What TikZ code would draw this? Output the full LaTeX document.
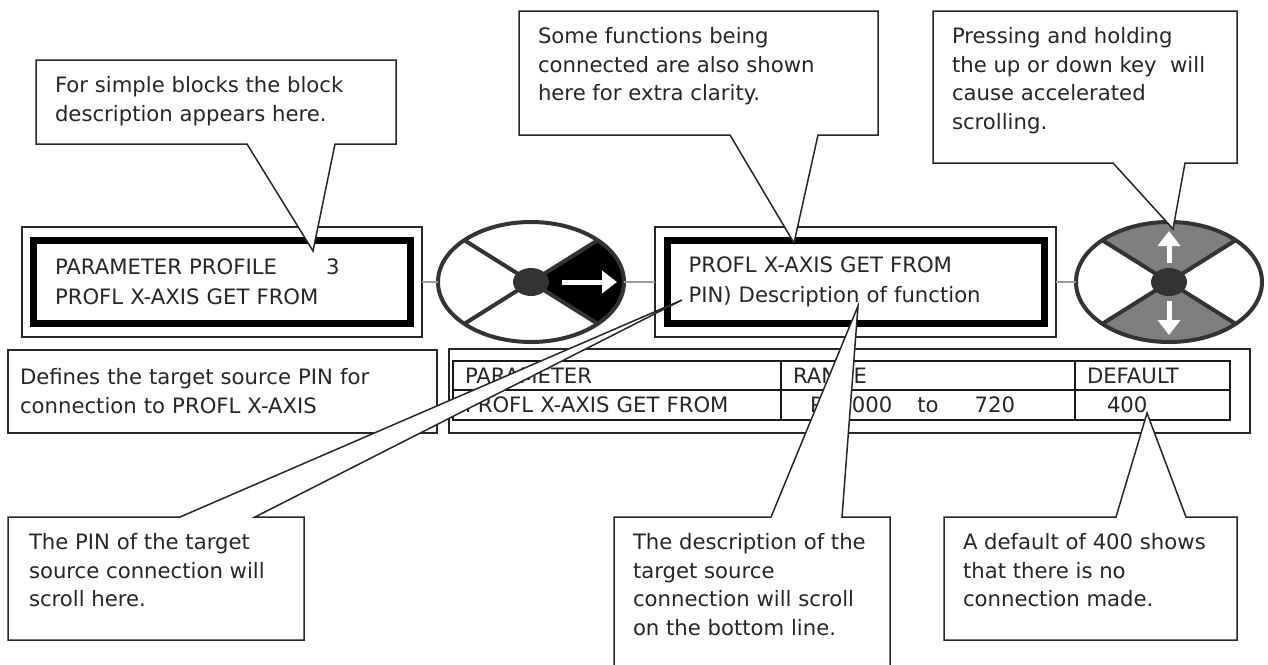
\documentclass[tikz,border=0pt]{standalone}
\usepackage{fontspec}
\setmainfont{DejaVu Sans}
\usepackage{xcolor}
\usetikzlibrary{shapes.geometric, arrows.meta, positioning, calc}
\definecolor{ink}{HTML}{262626}
\definecolor{rim}{HTML}{333333}
\definecolor{wiregray}{HTML}{9A9A9A}
\definecolor{padgray}{HTML}{7F7F7F}
\tikzset{
    base/.style={inner sep=0pt, outer sep=0pt},
    txt/.style={text=ink, font=\fontsize{10.6}{14.5}\selectfont},
    frame/.style={base, rectangle, draw=ink, line width=0.75pt},
    screen/.style={base, txt, rectangle, draw=black, line width=3.5pt, align=left, inner xsep=10.75pt, text width=167pt, font=\fontsize{10.6}{15}\selectfont},
    cell/.style={base, txt, rectangle, draw=black!90, line width=0.6pt, inner xsep=6pt, align=left},
    bbox/.style={base, rectangle, anchor=north west},
    balloon/.style={draw=ink, line width=0.75pt, fill=white, line join=miter},
    note/.style={base, txt, anchor=north west, align=left, font=\fontsize{10.6}{14.3}\selectfont},
    wheel/.style={base, ellipse, draw=rim, line width=2pt, minimum width=93pt, minimum height=60pt},
    hub/.style={base, ellipse, fill=rim, minimum width=18pt, minimum height=14pt},
    spoke/.style={draw=rim, line width=2pt},
    wiring/.style={draw=wiregray, line width=0.75pt},
    keyarrow/.style={draw=white, line width=2.5pt, -{Triangle[width=11pt, length=7.5pt]}}
}
\begin{document}
\begin{tikzpicture}[x=0.5pt, y=-0.5pt]
    \useasboundingbox (0,0) rectangle (1268,664);
    \clip (0,0) rectangle (1268,664);

    % Display windows
    \node (d1) [frame, minimum width=200pt, minimum height=55pt] at (222,282) {};
    \node (d1in) [screen, minimum height=41.5pt] at (d1.center) {PARAMETER PROFILE\hspace{24.5pt}3\\PROFL X-AXIS GET FROM};
    \node (d2) [frame, minimum width=200.5pt, minimum height=55pt] at (855.5,282) {};
    \node (d2in) [screen, minimum height=41.5pt] at (d2.center) {PROFL X-AXIS GET FROM\\PIN) Description of function};

    % Description and parameter table
    \node (def) [frame, txt, anchor=north west, minimum width=214.5pt, minimum height=41.5pt, inner xsep=6pt, text width=202.5pt, align=left] at (8,350) {Defines the target source PIN for\\connection to PROFL X-AXIS};
    \node (tbl) [frame, anchor=north west, minimum width=400.5pt, minimum height=42pt] at (449,349) {};
    \node (h1) [cell, anchor=north west, text width=152pt, minimum height=14.5pt] at (453,361) {PARAMETER};
    \node (h2) [cell, right=0pt of h1, text width=135pt, minimum height=14.5pt] {RANGE};
    \node (h3) [cell, right=0pt of h2, text width=65.5pt, minimum height=14.5pt] {DEFAULT};
    \node (v1) [cell, below=0pt of h1, text width=152pt, minimum height=15pt] {PROFL X-AXIS GET FROM};
    \node (v2) [cell, below=0pt of h2, text width=135pt, minimum height=15pt] {\hspace*{8.5pt}PIN 000\hspace{12.5pt}to\hspace{18pt}720};
    \node (v3) [cell, below=0pt of h3, text width=65.5pt, minimum height=15pt] {\hspace*{10pt}400};

    % Left key: black right-hand segment
    \coordinate (w1c) at (531,282);
    \begin{scope}
        \clip (w1c) -- ++(201,-126) -- ++(0,252) -- cycle;
        \fill[black] (w1c) ellipse [x radius=46.5pt, y radius=30pt];
    \end{scope}
    \foreach \sx/\sy in {67/42, -67/42, 67/-42, -67/-42}
        \draw[spoke] (w1c) -- ++(\sx,\sy);
    \node (w1) [wheel] at (w1c) {};
    \node (w1hub) [hub] at (w1c) {};
    \draw[keyarrow] ($(w1c)+(31,0)$) -- ($(w1c)+(86,0)$);

    % Right key: grey up and down segments
    \coordinate (w2c) at (1169,282);
    \begin{scope}
        \clip (w2c) -- ++(-201,-126) -- ++(402,0) -- cycle;
        \fill[padgray] (w2c) ellipse [x radius=46.5pt, y radius=30pt];
    \end{scope}
    \begin{scope}
        \clip (w2c) -- ++(-201,126) -- ++(402,0) -- cycle;
        \fill[padgray] (w2c) ellipse [x radius=46.5pt, y radius=30pt];
    \end{scope}
    \foreach \sx/\sy in {67/42, -67/42, 67/-42, -67/-42}
        \draw[spoke] (w2c) -- ++(\sx,\sy);
    \node (w2) [wheel] at (w2c) {};
    \node (w2hub) [hub] at (w2c) {};
    \draw[keyarrow] ($(w2c)+(0,-19)$) -- ($(w2c)+(0,-51)$);
    \draw[keyarrow] ($(w2c)+(0,19)$) -- ($(w2c)+(0,53)$);

    % Links
    \draw[wiring] (d1) -- (w1);
    \draw[wiring] (w1) -- (d2);
    \draw[wiring] (d2) -- (w2);

    % Callouts above
    \node (c1) [bbox, minimum width=180pt, minimum height=42pt] at (36,60) {};
    \coordinate (c1tip) at (313,251);
    \draw[balloon] (c1.north west) -- (c1.north east) -- (c1.south east) -- ($(c1.south west)+(299,0)$) -- (c1tip) -- ($(c1.south west)+(211,0)$) -- (c1.south west) -- cycle;
    \node (c1text) [note] at ([shift={(19,16.5)}]c1.north west) {For simple blocks the block\\description appears here.};

    \node (c2) [bbox, minimum width=179.5pt, minimum height=62pt] at (519,11) {};
    \coordinate (c2tip) at (794,243);
    \draw[balloon] (c2.north west) -- (c2.north east) -- (c2.south east) -- ($(c2.south west)+(299,0)$) -- (c2tip) -- ($(c2.south west)+(211,0)$) -- (c2.south west) -- cycle;
    \node (c2text) [note] at ([shift={(19,16.5)}]c2.north west) {Some functions being\\connected are also shown\\here for extra clarity.};

    \node (c3) [bbox, minimum width=152pt, minimum height=76pt] at (933,11) {};
    \coordinate (c3tip) at (1173,229);
    \draw[balloon] (c3.north west) -- (c3.north east) -- (c3.south east) -- ($(c3.south west)+(252,0)$) -- (c3tip) -- ($(c3.south west)+(180,0)$) -- (c3.south west) -- cycle;
    \node (c3text) [note] at ([shift={(19,16.5)}]c3.north west) {Pressing and holding\\the up or down key\ \ will\\cause accelerated\\scrolling.};

    % Callouts below
    \node (c4) [bbox, minimum width=148pt, minimum height=61.5pt] at (8,517) {};
    \coordinate (c4tip) at (682,300);
    \draw[balloon] (c4.south west) -- (c4.north west) -- ($(c4.north west)+(172,0)$) -- (c4tip) -- ($(c4.north west)+(247,0)$) -- (c4.north east) -- (c4.south east) -- cycle;
    \node (c4text) [note] at ([shift={(21,16.5)}]c4.north west) {The PIN of the target\\source connection will\\scroll here.};

    \node (c5) [bbox, minimum width=138pt, minimum height=91.5pt] at (614,517) {};
    \coordinate (c5tip) at (858,306);
    \draw[balloon] (c5.south west) -- (c5.north west) -- ($(c5.north west)+(157,0)$) -- (c5tip) -- ($(c5.north west)+(228,0)$) -- (c5.north east) -- (c5.south east) -- cycle;
    \node (c5text) [note] at ([shift={(19,16.5)}]c5.north west) {The description of the\\target source\\connection will scroll\\on the bottom line.};

    \node (c6) [bbox, minimum width=146.5pt, minimum height=61.5pt] at (944,517) {};
    \coordinate (c6tip) at (1147,413);
    \draw[balloon] (c6.south west) -- (c6.north west) -- ($(c6.north west)+(172,0)$) -- (c6tip) -- ($(c6.north west)+(242,0)$) -- (c6.north east) -- (c6.south east) -- cycle;
    \node (c6text) [note] at ([shift={(19,16.5)}]c6.north west) {A default of 400 shows\\that there is no\\connection made.};
\end{tikzpicture}
\end{document}
